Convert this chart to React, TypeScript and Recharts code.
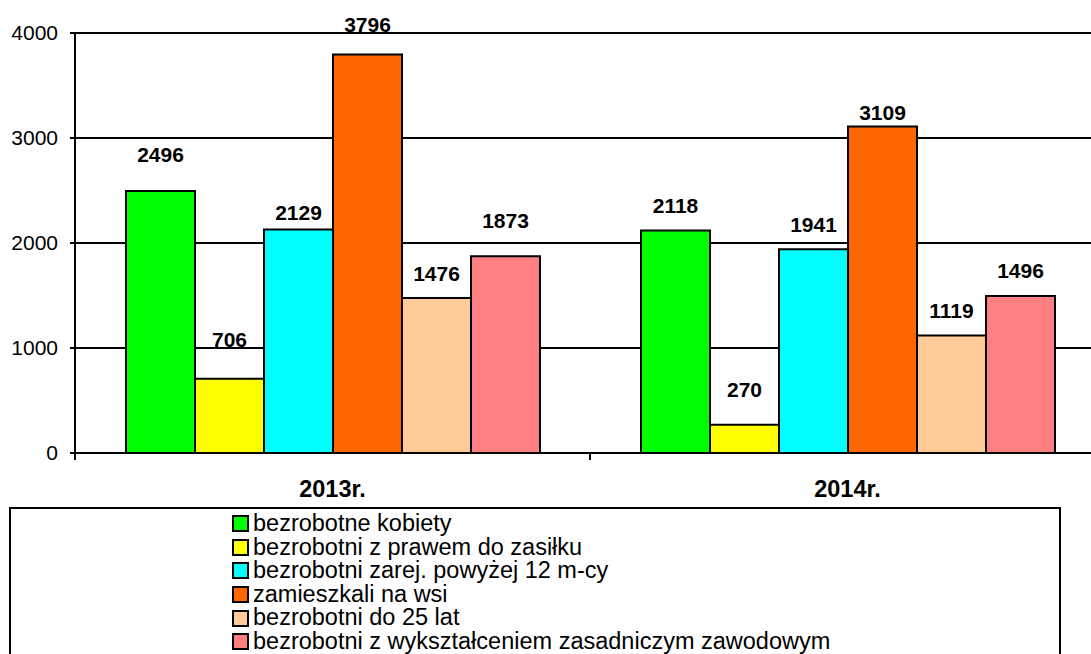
import React from 'react'
import * as R from 'recharts'
import { BarChart, Bar, XAxis, YAxis, CartesianGrid, LabelList } from 'recharts'

const CATEGORIES = ['2013r.', '2014r.']

const SERIES_NAMES = [
  'bezrobotne kobiety',
  'bezrobotni z prawem do zasiłku',
  'bezrobotni zarej. powyżej 12 m-cy',
  'zamieszkali na wsi',
  'bezrobotni do 25 lat',
  'bezrobotni z wykształceniem zasadniczym zawodowym',
]

const kobiety = [2496, 2118]
const zasilek = [706, 270]
const powyzej12 = [2129, 1941]
const wies = [3796, 3109]
const do25 = [1476, 1119]
const zawodowe = [1873, 1496]

const Y_TICKS = [0, 1000, 2000, 3000, 4000]

const SERIES_VALUES = [kobiety, zasilek, powyzej12, wies, do25, zawodowe]

const KOLORY = ['#00ff00', '#ffff00', '#00ffff', '#ff6600', '#ffcc99', '#ff8080']

// etykiety w oryginale sa przesuwane recznie - odstep nad slupkiem (px)
const LABEL_LIFT = [
  [36, 25],
  [39, 35],
  [17, 25],
  [30, 14],
  [25, 25],
  [36, 25],
]

const FONT = 'Arial, "Liberation Sans", sans-serif'

const dane = CATEGORIES.map((kat, i) => {
  const row: Record<string, string | number> = { kat }
  SERIES_VALUES.forEach((vals, s) => { row[`s${s}`] = vals[i] })
  return row
})

function makeLabel(s: number) {
  return (props: any) => {
    const { x, y, width, value, index } = props
    return (
      <text
        x={Number(x) + Number(width) / 2}
        y={Number(y) - LABEL_LIFT[s][index]}
        textAnchor="middle"
        dominantBaseline="central"
        fontFamily={FONT}
        fontWeight="bold"
        fontSize={21}
        fill="#000"
      >
        {value}
      </text>
    )
  }
}

function CategoryTick(props: any) {
  const { x, y, payload } = props
  return (
    <text
      x={x}
      y={y + 28}
      textAnchor="middle"
      dominantBaseline="central"
      fontFamily={FONT}
      fontWeight="bold"
      fontSize={23.5}
      fill="#000"
    >
      {payload.value}
    </text>
  )
}

// kreski podzialu kategorii na osi X (na granicach, nie w srodku)
const usePlot: () => any = (R as any).usePlotArea ?? (() => null)

function EdgeTicks() {
  const area = usePlot()
  if (!area) return null
  const dol = area.y + area.height
  return (
    <g>
      {[0, 1, 2].map(i => {
        const x = area.x + (i * area.width) / CATEGORIES.length
        return <line key={i} x1={x} x2={x} y1={dol} y2={dol + 7} stroke="#000" strokeWidth={2} />
      })}
    </g>
  )
}

function Legenda() {
  return (
    <div
      style={{
        position: 'absolute', left: 9, top: 507, width: 1048, height: 170,
        border: '2px solid #000', fontFamily: FONT, fontSize: 23.5,
        lineHeight: '23.6px', paddingTop: 3, boxSizing: 'content-box',
      }}
    >
      {SERIES_NAMES.map((nazwa, s) => (
        <div key={nazwa} style={{ display: 'flex', alignItems: 'center', paddingLeft: 221, height: 23.6 }}>
          <span
            style={{
              display: 'inline-block', width: 13, height: 13, background: KOLORY[s],
              border: '2px solid #000', marginRight: 4, flexShrink: 0,
            }}
          />
          <span style={{ whiteSpace: 'nowrap' }}>{nazwa}</span>
        </div>
      ))}
    </div>
  )
}

export default function App() {
  return (
    <div style={{ position: 'absolute', left: 0, top: 0, width: 1091, height: 654, overflow: 'hidden', background: '#fff' }}>
      <BarChart
        width={1105}
        height={513}
        data={dane}
        margin={{ top: 33, right: 0, bottom: 0, left: 0 }}
        barGap={0}
        barCategoryGap={51}
      >
        <CartesianGrid horizontal vertical={false} stroke="#000" strokeWidth={2} />
        <XAxis
          dataKey="kat"
          height={60}
          axisLine={{ stroke: '#000', strokeWidth: 2 }}
          tickLine={false}
          tick={<CategoryTick />}
        />
        <YAxis
          width={75}
          domain={[0, 4000]}
          ticks={Y_TICKS}
          interval={0}
          axisLine={{ stroke: '#000', strokeWidth: 2 }}
          tickLine={{ stroke: '#000', strokeWidth: 2 }}
          tickSize={5}
          tickMargin={12}
          tick={{ fill: '#000', fontSize: 21, fontFamily: FONT }}
        />
        {SERIES_NAMES.map((nazwa, s) => (
          <Bar
            key={nazwa}
            dataKey={`s${s}`}
            name={nazwa}
            fill={KOLORY[s]}
            stroke="#000"
            strokeWidth={2}
            isAnimationActive={false}
          >
            <LabelList dataKey={`s${s}`} content={makeLabel(s)} />
          </Bar>
        ))}
        <EdgeTicks />
      </BarChart>
      <Legenda />
    </div>
  )
}
